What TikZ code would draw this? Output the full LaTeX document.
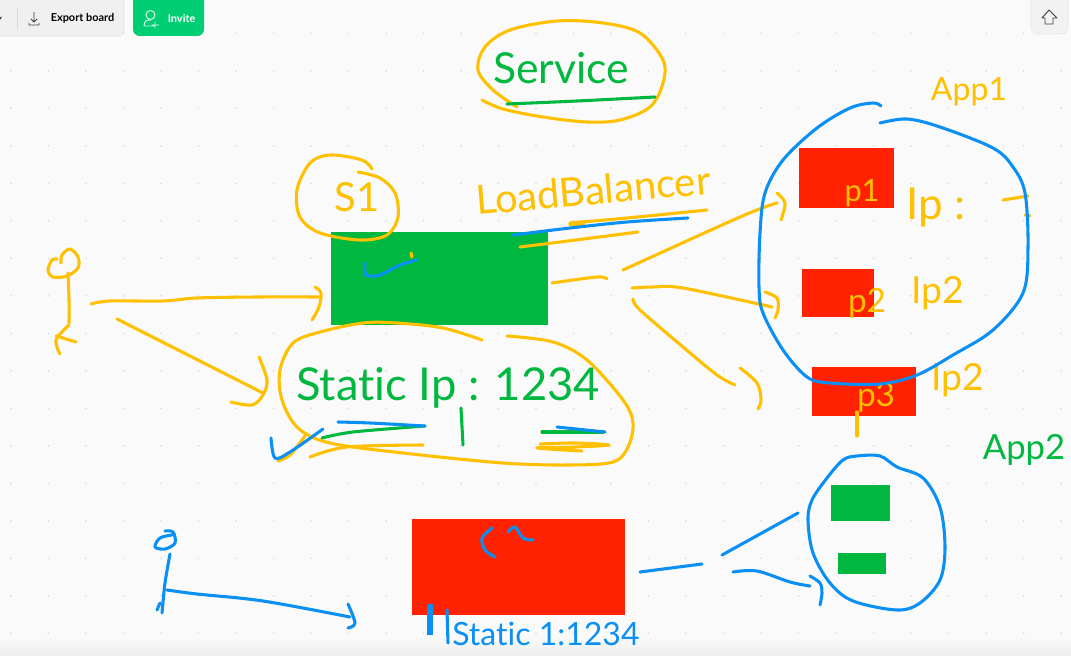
\documentclass[tikz,border=0pt]{standalone}
\usepackage{fontspec}
\setmainfont[Ligatures=NoCommon]{Lato}
\usepackage{xcolor}
\usepackage{tikz}
\definecolor{boardbg}{HTML}{FAFAFA}
\definecolor{griddot}{HTML}{DEDEDE}
\definecolor{penyellow}{HTML}{FFC000}
\definecolor{pengreen}{HTML}{00B83F}
\definecolor{penblue}{HTML}{0A8FF5}
\definecolor{boxred}{HTML}{FF2100}
\definecolor{invitegreen}{HTML}{00CE73}
\tikzset{
  ink/.style={line width=2.3pt,smooth,tension=0.55,line cap=round,line join=round},
  yellowink/.style={ink,draw=penyellow},
  greenink/.style={ink,draw=pengreen},
  blueink/.style={ink,draw=penblue},
  inkword/.style={inner sep=0pt,font=\fontsize{#1}{#1}\selectfont},
  yellowword/.style={inkword=#1,text=penyellow},
  greenword/.style={inkword=#1,text=pengreen},
  blueword/.style={inkword=#1,text=penblue},
  sketchbox/.style={anchor=north west,inner sep=0pt,outer sep=0pt,draw=none},
  toolword/.style={inner sep=0pt,font=\fontsize{8.2}{9}\selectfont\bfseries}
}
\begin{document}
\begin{tikzpicture}[x=0.75pt,y=-0.75pt]
  \useasboundingbox (0,0) rectangle (1071,656);
  \fill[boardbg] (0,0) rectangle (1071,656);
  \foreach \gx in {0,...,28}
    \foreach \gy in {0,...,16}
      \fill[griddot] ({11+37.5*\gx},{33.3+37.5*\gy}) circle (1);
  \shade[top color=boardbg,bottom color=black!7] (0,636) rectangle (1071,656);
  % toolbar
  \draw[draw=black!12,fill=black!6,rounded corners=5pt] (-8,-8) rectangle (124,36);
  \draw[black!15] (17,8) -- (17,29);
  \fill[black!70] (-2,17) -- (2,17) -- (0,20) -- cycle;
  \draw[black!75,line width=.6pt] (34,12) -- (34,22) (31,19) -- (34,22) -- (37,19) (29,23) -- (29,25) -- (39,25) -- (39,23);
  \node[toolword,anchor=west] (exportlabel) at (50.5,18) {Export board};
  \fill[invitegreen,rounded corners=5pt] (133,-8) rectangle (204,36);
  \draw[white!85!invitegreen,line width=.7pt] (150.5,15) circle (4.5) (144,26) .. controls (144,20) and (148,20) .. (151,20) (144,26) -- (154,26) (155,22) -- (155,28) (152,25) -- (159,25);
  \node[toolword,anchor=west,text=white] (invitelabel) at (167.5,18) {Invite};
  \draw[draw=black!10,fill=black!5,rounded corners=5pt] (1031,-8) rectangle (1068,34);
  \draw[black!75,line width=.7pt,line join=round] (1049,10) -- (1042,18) -- (1045,18) -- (1045,24) -- (1053,24) -- (1053,18) -- (1057,18) -- cycle;
  % boxes
  \node[sketchbox,fill=pengreen,minimum width=217*0.75pt,minimum height=93*0.75pt] (lbbox) at (331,232) {};
  \node[sketchbox,fill=boxred,minimum width=95*0.75pt,minimum height=60*0.75pt] (ponebox) at (799,148) {};
  \node[sketchbox,fill=boxred,minimum width=72*0.75pt,minimum height=48*0.75pt] (ptwobox) at (802,269) {};
  \node[sketchbox,fill=boxred,minimum width=104*0.75pt,minimum height=49*0.75pt] (pthreebox) at (812,367) {};
  \node[sketchbox,fill=boxred,minimum width=213*0.75pt,minimum height=96*0.75pt] (staticbox) at (412,519) {};
  \node[sketchbox,fill=pengreen,minimum width=59*0.75pt,minimum height=36*0.75pt] (apptwotop) at (831,485) {};
  \node[sketchbox,fill=pengreen,minimum width=48*0.75pt,minimum height=21*0.75pt] (apptwolow) at (838,553) {};
  % service
  \draw[yellowink] plot coordinates {(517,107) (493,90) (478,70) (485,47) (510,30) (557,21) (603,23) (640,33) (663,60) (663,83) (650,107) (620,120) (587,122) (543,117) (503,109) (482,100)};
  \draw[greenink] plot coordinates {(507,104) (577,101) (655,97)};
  \node[greenword=32] (servicelabel) at (561,68) {Service};
  % load balancer
  \node[yellowword=30,rotate=5] (lblabel) at (593,190) {LoadBalancer};
  \draw[yellowink] plot coordinates {(570,223) (627,218) (707,210)};
  \draw[yellowink,line width=4pt] (571,224) -- (583,223);
  \draw[yellowink] plot coordinates {(520,247) (560,242) (638,232)};
  \draw[blueink] plot coordinates {(513,235) (570,228) (627,222) (688,218)};
  % s1
  \draw[yellowink] plot coordinates {(372,169) (362,160) (330,155) (310,163) (297,190) (300,217) (320,233) (360,240) (387,235) (398,217) (395,193) (380,178) (358,172)};
  \node[yellowword=30] (sonelabel) at (357,197) {S1};
  \draw[blueink] plot coordinates {(365,263) (366,275) (380,275) (400,265) (417,260)};
  \draw[yellowink] (411,253) -- (412,257);
  % user
  \draw[yellowink] plot coordinates {(61,263) (62,255) (70,249) (78,257) (78,268) (67,276) (53,277) (48,270) (52,260) (57,259)};
  \draw[yellowink] plot coordinates {(68,273) (69,300) (69,323)};
  \draw[yellowink] plot coordinates {(69,325) (56,340) (60,354)};
  \draw[yellowink] (56,336) -- (76,342);
  \draw[yellowink] plot coordinates {(91,304) (110,301) (163,301) (197,298) (257,297) (320,297)};
  \draw[yellowink] plot coordinates {(315,287) (321,293) (319,307) (312,320)};
  \draw[yellowink] (117,319) -- (263,393);
  \draw[yellowink] plot coordinates {(259,357) (267,380) (263,395) (252,405) (231,402)};
  % static ip
  \draw[yellowink] plot coordinates {(482,340) (443,328) (397,323) (363,323) (320,332) (293,343) (280,370) (282,400) (298,428) (330,443) (403,453) (503,463) (570,465) (613,462) (628,447) (633,423) (623,400) (587,360) (553,342) (507,336)};
  \node[greenword=34,anchor=west] (staticiplabel) at (296,388) {Static Ip : 1234};
  \draw[greenink] (461,408) -- (463,445);
  \draw[yellowink] plot coordinates {(278,461) (290,455) (305,436)};
  \draw[yellowink] plot coordinates {(310,457) (347,447) (423,445)};
  \draw[greenink] plot coordinates {(322,438) (353,432) (425,426)};
  \draw[blueink] plot coordinates {(338,422) (370,423) (425,426)};
  \draw[blueink] plot coordinates {(271,438) (275,458) (290,452) (323,429)};
  \draw[yellowink] plot coordinates {(540,444) (575,443) (609,445) (575,447) (537,448) (582,451)};
  \draw[greenink] (542,432) -- (603,432);
  \draw[blueink] (557,427) -- (605,432);
  % lines into app1
  \draw[yellowink] plot coordinates {(552,283) (597,277) (607,279)};
  \draw[yellowink] plot coordinates {(623,270) (740,217) (777,203)};
  \draw[yellowink] plot coordinates {(777,193) (785,203) (781,220)};
  \draw[yellowink] plot coordinates {(632,288) (653,287) (683,288) (772,307)};
  \draw[yellowink] plot coordinates {(765,292) (777,298) (778,310) (775,318)};
  \draw[yellowink] plot coordinates {(633,299) (640,310) (683,347) (717,375) (735,385)};
  \draw[yellowink] plot coordinates {(740,368) (757,383) (761,400) (758,409)};
  % app1
  \node[yellowword=24] (apponelabel) at (969,92) {App1};
  \node[yellowword=23] (ponelabel) at (862,193) {p1};
  \node[yellowword=25] (ptwolabel) at (867,303) {p2};
  \node[yellowword=25] (pthreelabel) at (876,397) {p3};
  \draw[yellowink] (857,412) -- (857,436);
  \node[yellowword=33,anchor=west] (iponelabel) at (906,208) {Ip :};
  \draw[yellowink] (1003,200) -- (1028,196);
  \draw[yellowink] (1025,215) -- (1030,216);
  \node[yellowword=28] (iptwolabel) at (938,293) {Ip2};
  \node[yellowword=28] (ipthreelabel) at (958,380) {Ip2};
  \draw[blueink] plot coordinates {(881,106) (873,103) (850,108) (817,128) (783,160) (765,193) (760,233) (759,287) (763,313) (783,350) (807,377) (830,383) (880,384) (917,375) (953,355) (993,330) (1023,293) (1028,247) (1025,193) (1013,167) (993,148) (940,127) (907,119) (880,123)};
  % app2
  \node[greenword=26] (apptwolabel) at (1024,450) {App2};
  \draw[blueink] plot[smooth cycle] coordinates {(843,460) (857,456) (880,456) (897,467) (923,478) (940,507) (945,547) (940,580) (920,603) (897,610) (853,601) (830,583) (813,553) (808,520) (812,500) (827,478)};
  \draw[blueink] (640,572) -- (702,564);
  \draw[blueink] (722,555) -- (798,513);
  \draw[blueink] plot coordinates {(733,572) (757,571) (790,582) (810,586)};
  \draw[blueink] plot coordinates {(810,576) (820,583) (822,593) (820,605)};
  % bottom user
  \draw[blueink] plot coordinates {(165,531) (173,532) (175,543) (165,549) (155,547) (160,538) (172,535)};
  \draw[blueink] plot coordinates {(170,554) (165,583) (162,613)};
  \draw[blueink] (160,603) -- (157,610);
  \draw[blueink] plot coordinates {(167,590) (197,594) (263,601) (350,617)};
  \draw[blueink] plot coordinates {(348,604) (355,623) (348,628)};
  % static box marks
  \draw[blueink] plot coordinates {(492,528) (482,538) (485,550) (495,557)};
  \draw[blueink] plot coordinates {(508,532) (515,527) (523,538) (533,540)};
  \fill[penblue] (427,604) rectangle (433,635);
  \draw[blueink] (447,610) -- (448,643);
  \node[blueword=24,anchor=west] (staticlabel) at (452,634) {Static 1:1234};
\end{tikzpicture}
\end{document}
